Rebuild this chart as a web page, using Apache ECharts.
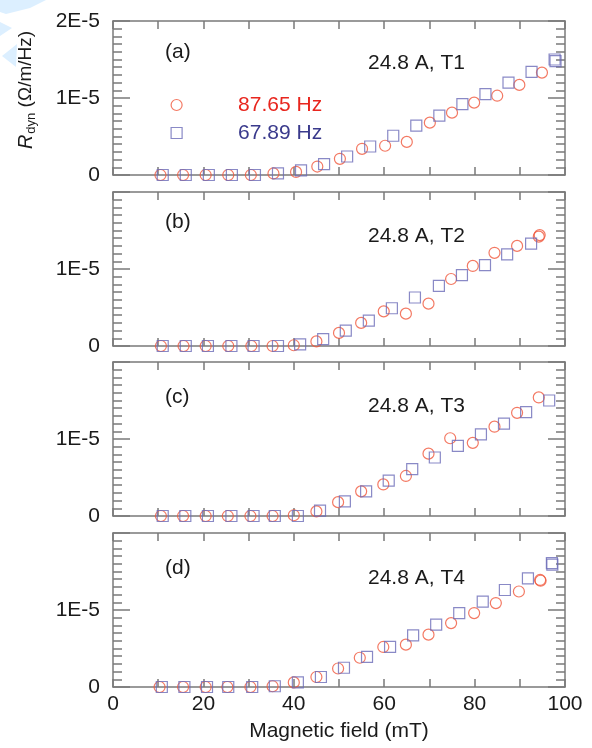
<!DOCTYPE html>
<html>
<head>
<meta charset="utf-8">
<script src="https://cdn.jsdelivr.net/npm/echarts@6/dist/echarts.min.js"></script>
<style>
html,body{margin:0;padding:0;background:#fff;}
#chart{width:592px;height:748px;}
</style>
</head>
<body>
<div id="chart"></div>
<script>
// Values in units of 1E-6 Ohm/m/Hz; x in mT
const panelLabels = ['(a)', '(b)', '(c)', '(d)'];
const panelTitles = ['24.8 A, T1', '24.8 A, T2', '24.8 A, T3', '24.8 A, T4'];
const seriesNames = ['87.65 Hz', '67.89 Hz'];
const xTickLabels = [0, 20, 40, 60, 80, 100];
const yTickLabels = ['0', '1E-5', '2E-5'];

// Panel (a) T1
const a_circleX = [10.5, 15.5, 20.5, 25.5, 30.5, 35.5, 40.5, 45.2, 50.2, 55.1, 60.2, 65.0, 70.1, 75.0, 79.9, 85.0, 89.9, 94.9];
const a_circleY = [0, 0, 0, 0, 0, 0.2, 0.4, 1.1, 2.1, 3.4, 3.8, 4.3, 6.8, 8.1, 9.4, 10.3, 11.7, 13.3];
const a_squareX = [11.0, 16.1, 21.2, 26.3, 31.4, 36.5, 41.6, 46.7, 51.8, 56.9, 62.0, 67.1, 72.2, 77.3, 82.4, 87.5, 92.6, 97.7, 97.9];
const a_squareY = [0, 0, 0, 0, 0, 0.2, 0.6, 1.4, 2.4, 3.7, 5.1, 6.4, 7.7, 9.2, 10.5, 12.0, 13.4, 15.0, 14.8];

// Panel (b) T2
const b_circleX = [10.6, 15.6, 20.5, 25.5, 30.6, 35.3, 40.0, 45.0, 50.0, 54.9, 59.9, 64.8, 69.8, 74.8, 79.6, 84.4, 89.4, 94.2, 94.4];
const b_circleY = [0, 0, 0, 0, 0, 0, 0.1, 0.6, 1.7, 3.0, 4.5, 4.2, 5.5, 8.7, 10.4, 12.1, 13.0, 14.2, 14.4];
const b_squareX = [11.0, 16.1, 21.0, 26.2, 31.1, 36.5, 41.4, 46.5, 51.5, 56.6, 61.7, 66.8, 72.1, 77.2, 82.3, 87.2, 92.5];
const b_squareY = [0, 0, 0, 0, 0, 0, 0.2, 0.9, 2.0, 3.3, 4.9, 6.3, 7.8, 9.2, 10.5, 11.9, 13.3];

// Panel (c) T3
const c_circleX = [10.6, 15.5, 20.5, 25.4, 30.4, 35.3, 40.0, 45.0, 49.8, 54.9, 59.8, 64.8, 69.8, 74.6, 79.6, 84.4, 89.4, 94.2];
const c_circleY = [0, 0, 0, 0, 0, 0, 0.1, 0.6, 1.8, 3.2, 4.1, 5.2, 8.1, 10.1, 9.5, 11.6, 13.4, 15.4];
const c_squareX = [11.0, 16.0, 21.0, 26.2, 31.1, 35.8, 40.9, 45.8, 51.3, 56.0, 61.0, 66.2, 71.2, 76.3, 81.4, 86.5, 91.4, 96.5];
const c_squareY = [0, 0, 0, 0, 0, 0, 0, 0.7, 1.9, 3.2, 4.6, 6.1, 7.6, 9.1, 10.6, 12.0, 13.5, 15.0];

// Panel (d) T4
const d_circleX = [10.3, 15.5, 20.5, 25.3, 30.4, 35.3, 40.0, 45.0, 49.8, 54.6, 59.8, 64.8, 69.8, 74.8, 79.9, 84.7, 89.8, 94.5, 94.6];
const d_circleY = [0, 0, 0, 0, 0, 0.1, 0.6, 1.3, 2.4, 3.8, 5.2, 5.5, 6.8, 8.3, 9.6, 10.9, 12.4, 13.9, 13.8];
const d_squareX = [10.8, 15.8, 20.8, 25.5, 30.8, 35.8, 40.9, 46.0, 51.1, 56.2, 61.3, 66.4, 71.5, 76.6, 81.8, 86.7, 91.8, 97.1, 97.2];
const d_squareY = [0, 0, 0, 0, 0, 0.1, 0.6, 1.3, 2.5, 3.9, 5.2, 6.7, 8.1, 9.6, 11.1, 12.6, 14.1, 16.1, 15.9];

const circleXs = [a_circleX, b_circleX, c_circleX, d_circleX];
const circleYs = [a_circleY, b_circleY, c_circleY, d_circleY];
const squareXs = [a_squareX, b_squareX, c_squareX, d_squareX];
const squareYs = [a_squareY, b_squareY, c_squareY, d_squareY];

const FONT = 'Liberation Sans, Arial, Helvetica, sans-serif';
const FS = 21;
const TEXT_COLOR = '#1a1a1a';
const AXIS_COLOR = '#7a7a7a';
const CIRCLE_COLOR = '#f0583c';
const SQUARE_COLOR = '#6c6cb8';
const RED_TEXT = '#e8261e';
const BLUE_TEXT = '#3a3a8c';

const gridTops = [21, 192, 362, 533];
const labelOffsets = [[31, 42], [30, 44], [35, 44], [35, 45]];

const zip = (xs, ys) => xs.map((x, i) => [x, ys[i]]);

const grid = gridTops.map(t => ({ left: 113, top: t, width: 452, height: 154 }));

const xAxis = [];
const yAxis = [];
const lineStyle = { color: AXIS_COLOR, width: 1.5 };
for (let i = 0; i < 4; i++) {
  xAxis.push({
    type: 'value', gridIndex: i, position: 'bottom', min: 0, max: 100, interval: 10,
    axisLine: { show: true, onZero: false, lineStyle },
    axisTick: { show: true, inside: true, length: 8, lineStyle },
    splitLine: { show: false },
    axisLabel: {
      show: i === 3, margin: 7, fontSize: FS, fontFamily: FONT, color: TEXT_COLOR,
      formatter: v => (xTickLabels.indexOf(v) >= 0 ? String(v) : '')
    },
    name: i === 3 ? 'Magnetic field (mT)' : '',
    nameLocation: 'middle', nameGap: 34,
    nameTextStyle: { fontSize: FS, fontFamily: FONT, color: TEXT_COLOR }
  });
}
for (let i = 0; i < 4; i++) {
  xAxis.push({
    type: 'value', gridIndex: i, position: 'top', min: 0, max: 100, interval: 10,
    axisLine: { show: true, onZero: false, lineStyle },
    axisTick: { show: true, inside: true, length: 8, lineStyle },
    splitLine: { show: false }, axisLabel: { show: false }
  });
}
for (let i = 0; i < 4; i++) {
  yAxis.push({
    type: 'value', gridIndex: i, position: 'left', min: 0, max: 20, interval: 10,
    axisLine: { show: true, onZero: false, lineStyle },
    axisTick: { show: true, inside: true, length: 17, lineStyle },
    minorTick: { show: true, splitNumber: 10, length: 9, lineStyle },
    splitLine: { show: false }, minorSplitLine: { show: false },
    axisLabel: {
      margin: 13, fontSize: FS, fontFamily: FONT, color: TEXT_COLOR,
      formatter: v => {
        const k = Math.round(v / 10);
        if (k === 2 && i !== 0) return '';
        return yTickLabels[k] || '';
      }
    }
  });
}
for (let i = 0; i < 4; i++) {
  yAxis.push({
    type: 'value', gridIndex: i, position: 'right', min: 0, max: 20, interval: 10,
    axisLine: { show: true, onZero: false, lineStyle },
    axisTick: { show: true, inside: true, length: 17, lineStyle },
    minorTick: { show: true, splitNumber: 10, length: 9, lineStyle },
    splitLine: { show: false }, minorSplitLine: { show: false },
    axisLabel: { show: false }
  });
}

const series = [];
for (let i = 0; i < 4; i++) {
  series.push({
    name: seriesNames[0], type: 'scatter', xAxisIndex: i, yAxisIndex: i,
    symbol: 'circle', symbolSize: 11, clip: false,
    itemStyle: { color: 'rgba(255,255,255,0)', borderColor: CIRCLE_COLOR, borderWidth: 1.2 },
    data: zip(circleXs[i], circleYs[i]), z: 3
  });
  series.push({
    name: seriesNames[1], type: 'scatter', xAxisIndex: i, yAxisIndex: i,
    symbol: 'rect', symbolSize: 11, clip: false,
    itemStyle: { color: 'rgba(255,255,255,0)', borderColor: SQUARE_COLOR, borderWidth: 1.2 },
    data: zip(squareXs[i], squareYs[i]), z: 4
  });
}

const graphic = [
  { type: 'polygon', shape: { points: [[0, 0], [46, 0], [30, 8], [6, 14], [0, 12]] }, style: { fill: '#dcefff' }, z: -1 },
  { type: 'polygon', shape: { points: [[0, 22], [12, 28], [0, 36]] }, style: { fill: '#dcefff' }, z: -1 },
  { type: 'polygon', shape: { points: [[2, 56], [17, 44], [16, 67]] }, style: { fill: '#dcefff' }, z: -1 },
  {
    type: 'text', x: 26, y: 90, rotation: Math.PI / 2,
    style: {
      text: '{r|R}{s|dyn}{n| (Ω/m/Hz)}', align: 'center', verticalAlign: 'middle',
      fill: TEXT_COLOR,
      rich: {
        r: { fontSize: 20, fontStyle: 'italic', fontFamily: FONT, fill: TEXT_COLOR },
        s: { fontSize: 13, fontFamily: FONT, padding: [11, 0, 0, 1], fill: TEXT_COLOR },
        n: { fontSize: 19, fontFamily: FONT, fill: TEXT_COLOR }
      }
    }
  }
];
for (let i = 0; i < 4; i++) {
  graphic.push({
    type: 'text', x: 165, y: gridTops[i] + labelOffsets[i][0],
    style: { text: panelLabels[i], fontSize: FS, fontFamily: FONT, fill: TEXT_COLOR, verticalAlign: 'middle' }
  });
  graphic.push({
    type: 'text', x: 368, y: gridTops[i] + labelOffsets[i][1],
    style: { text: panelTitles[i], fontSize: FS, fontFamily: FONT, fill: TEXT_COLOR, verticalAlign: 'middle' }
  });
}

const chart = echarts.init(document.getElementById('chart'), null, { renderer: 'canvas' });
chart.setOption({
  animation: false,
  backgroundColor: '#ffffff',
  grid, xAxis, yAxis, series, graphic,
  legend: {
    orient: 'vertical', left: 165.5, top: 89, itemGap: 6,
    itemWidth: 11, itemHeight: 11,
    itemStyle: { borderWidth: 1.2 },
    selectedMode: false,
    data: [
      { name: seriesNames[0], textStyle: { color: RED_TEXT } },
      { name: seriesNames[1], textStyle: { color: BLUE_TEXT } }
    ],
    textStyle: { fontSize: FS, fontFamily: FONT, lineHeight: 22, padding: [0, 0, 0, 51] }
  }
});
</script>
</body>
</html>
